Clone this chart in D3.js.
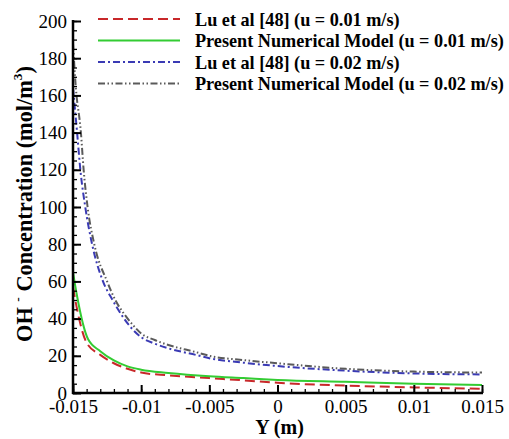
<!DOCTYPE html>
<html>
<head>
<meta charset="utf-8">
<script src="https://cdn.jsdelivr.net/npm/d3@7/dist/d3.min.js"></script>
<style>
  html, body { margin: 0; padding: 0; background: #fff; }
  svg { display: block; }
  svg text { font-family: "Liberation Serif", "DejaVu Serif", serif; fill: #000; }
</style>
</head>
<body>
<svg id="chart" width="509" height="439"></svg>
<script>
// OH- concentration profiles across the channel (Y in metres)
const luSlow = [
  [-0.015, 57], [-0.0147, 45], [-0.0140, 27], [-0.013, 20.5], [-0.012, 16],
  [-0.011, 13], [-0.010, 11], [-0.008, 9.5], [-0.005, 8], [-0.0025, 6.8],
  [0.000, 5.5], [0.005, 4], [0.010, 3], [0.015, 2.3]
];
const modelSlow = [
  [-0.015, 65], [-0.0147, 52], [-0.0139, 29], [-0.013, 22.5], [-0.012, 17.5],
  [-0.011, 14.3], [-0.010, 12.5], [-0.008, 10.8], [-0.005, 9], [-0.0025, 8],
  [0.000, 7], [0.005, 6], [0.010, 5], [0.015, 4.3]
];
const luFast = [
  [-0.015, 164], [-0.0147, 140], [-0.01446, 120], [-0.0141, 100], [-0.0136, 80],
  [-0.0128, 60], [-0.0121, 50], [-0.0113, 40.5], [-0.0106, 34], [-0.010, 30],
  [-0.009, 26.5], [-0.008, 24], [-0.006, 20.5], [-0.005, 18.7], [-0.0025, 16.3],
  [0.000, 14.5], [0.005, 12], [0.010, 10.5], [0.015, 10]
];
const modelFast = [
  [-0.015, 188], [-0.0148, 165], [-0.01442, 140], [-0.01422, 120], [-0.01393, 100],
  [-0.01344, 80], [-0.0125, 60], [-0.0119, 50], [-0.0112, 42], [-0.0106, 36.5],
  [-0.010, 32], [-0.009, 28.5], [-0.008, 25.8], [-0.006, 22], [-0.005, 20],
  [-0.0025, 17.7], [0.000, 16], [0.005, 13], [0.010, 11.5], [0.015, 11]
];

const seriesNames = [
  "Lu et al [48] (u = 0.01 m/s)",
  "Present Numerical Model (u = 0.01 m/s)",
  "Lu et al [48] (u = 0.02 m/s)",
  "Present Numerical Model (u = 0.02 m/s)"
];
const xTickValues = [-0.015, -0.01, -0.005, 0, 0.005, 0.01, 0.015];
const xTickLabels = ["-0.015", "-0.01", "-0.005", "0", "0.005", "0.01", "0.015"];
const yTickValues = [0, 20, 40, 60, 80, 100, 120, 140, 160, 180, 200];

const series = [
  { name: seriesNames[0], data: luSlow,    color: "#c8282a", dash: "10,5" },
  { name: seriesNames[1], data: modelSlow, color: "#33cc33", dash: null },
  { name: seriesNames[2], data: luFast,    color: "#3a3ab4", dash: "7,3,2,3" },
  { name: seriesNames[3], data: modelFast, color: "#5a5a5a", dash: "7,2.5,1.5,2.5,1.5,2.5" }
];

const serif = "'Liberation Serif', 'DejaVu Serif', serif";
const svg = d3.select("#chart");
const plotLeft = 73, plotRight = 482, plotTop = 21, plotBottom = 393;

const x = d3.scaleLinear().domain([-0.015, 0.015]).range([plotLeft, plotRight]);
const y = d3.scaleLinear().domain([0, 200]).range([plotBottom, plotTop]);

// plotted curves (clipped to the axes area)
svg.append("clipPath").attr("id", "plotArea")
  .append("rect").attr("x", plotLeft).attr("y", plotTop - 2)
  .attr("width", plotRight - plotLeft + 2).attr("height", plotBottom - plotTop + 2);

const line = d3.line()
  .x(d => x(d[0])).y(d => y(d[1]))
  .curve(d3.curveMonotoneX);

const curves = svg.append("g").attr("clip-path", "url(#plotArea)");
series.forEach(s => {
  curves.append("path")
    .attr("d", line(s.data))
    .attr("fill", "none")
    .attr("stroke", s.color)
    .attr("stroke-width", 2)
    .attr("stroke-dasharray", s.dash);
});

// bottom axis: major ticks every 0.005, minor every 0.001, pointing inward
const xMinor = d3.range(-15, 16).map(i => i / 1000);
const xAxisMinor = d3.axisBottom(x).tickValues(xMinor).tickSize(-4).tickFormat("");
const xAxisMajor = d3.axisBottom(x).tickValues(xTickValues).tickSize(-8)
  .tickPadding(7).tickFormat((d, i) => xTickLabels[i]);

const gxMinor = svg.append("g").attr("transform", `translate(0,${plotBottom})`).call(xAxisMinor);
const gx = svg.append("g").attr("transform", `translate(0,${plotBottom})`).call(xAxisMajor);
[gxMinor, gx].forEach(g => {
  g.attr("font-family", serif);
  g.select(".domain").remove();
  g.selectAll(".tick line").attr("stroke", "#000").attr("stroke-width", 1.3);
});
gx.selectAll(".tick line").attr("stroke-width", 2);
gx.selectAll(".tick text")
  .style("font-family", serif).style("font-size", "19px").attr("fill", "#000");

// left axis: major ticks every 20, minor every 5
const yMinor = d3.range(0, 201, 5);
const yAxisMinor = d3.axisLeft(y).tickValues(yMinor).tickSize(-4).tickFormat("");
const yAxisMajor = d3.axisLeft(y).tickValues(yTickValues).tickSize(-8)
  .tickPadding(6).tickFormat(d3.format("d"));

const gyMinor = svg.append("g").attr("transform", `translate(${plotLeft},0)`).call(yAxisMinor);
const gy = svg.append("g").attr("transform", `translate(${plotLeft},0)`).call(yAxisMajor);
[gyMinor, gy].forEach(g => {
  g.attr("font-family", serif);
  g.select(".domain").remove();
  g.selectAll(".tick line").attr("stroke", "#000").attr("stroke-width", 1.3);
});
gy.selectAll(".tick line").attr("stroke-width", 2);
gy.selectAll(".tick text")
  .style("font-family", serif).style("font-size", "19px").attr("fill", "#000");

// axis lines
svg.append("line").attr("x1", plotLeft).attr("x2", plotLeft)
  .attr("y1", plotTop - 1).attr("y2", plotBottom + 1)
  .attr("stroke", "#000").attr("stroke-width", 2.5);
svg.append("line").attr("x1", plotLeft - 1).attr("x2", plotRight + 1)
  .attr("y1", plotBottom).attr("y2", plotBottom)
  .attr("stroke", "#000").attr("stroke-width", 2.5);

// scale a text's font so its rendered length fits the given width
function fitText(sel, baseSize, width) {
  const len = sel.node().getComputedTextLength();
  const size = baseSize * width / len;
  sel.attr("font-size", size);
  return size;
}

// axis titles
svg.append("text")
  .attr("x", (plotLeft + plotRight) / 2 + 2).attr("y", 434)
  .attr("text-anchor", "middle")
  .attr("font-size", 20).attr("font-weight", "bold")
  .text("Y (m)");

const yTitle = svg.append("text")
  .attr("transform", "translate(32,204) rotate(-90)")
  .attr("text-anchor", "middle")
  .attr("font-size", 22).attr("font-weight", "bold");
yTitle.append("tspan").text("OH ");
yTitle.append("tspan").attr("class", "sup").attr("font-size", 13).attr("dy", -10).text("-");
yTitle.append("tspan").attr("dy", 10).text(" Concentration (mol/m");
yTitle.append("tspan").attr("class", "sup").attr("font-size", 13).attr("dy", -10).text("3");
yTitle.append("tspan").attr("dy", 10).text(")");
const titleSize = fitText(yTitle, 22, 276);
yTitle.selectAll(".sup").attr("font-size", titleSize * 0.6);

// legend
const legend = svg.append("g");
const legendTexts = [];
series.forEach((s, i) => {
  const ly = 19 + i * 21.5;
  legend.append("line")
    .attr("x1", 98).attr("x2", 180).attr("y1", ly).attr("y2", ly)
    .attr("stroke", s.color).attr("stroke-width", 2)
    .attr("stroke-dasharray", s.dash);
  legendTexts.push(legend.append("text")
    .attr("x", 195).attr("y", ly + 6.5)
    .attr("font-size", 19).attr("font-weight", "bold")
    .text(s.name));
});
// size the legend so its longest entry spans 310px
const legendSize = fitText(legendTexts[1], 19, 309);
legendTexts.forEach(t => t.attr("font-size", legendSize));
</script>
</body>
</html>
